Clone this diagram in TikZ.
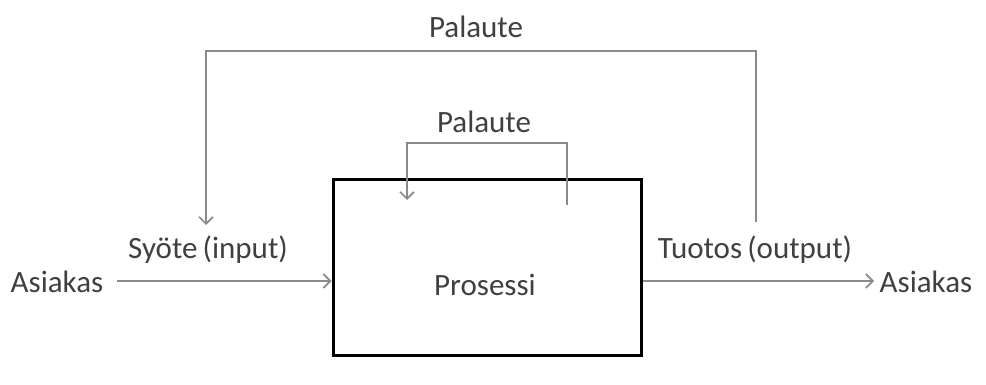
\documentclass[tikz,border=0pt]{standalone}
\usepackage{fontspec}
\setmainfont{Carlito}
\usetikzlibrary{arrows.meta}
\definecolor{txt}{HTML}{404040}
\definecolor{ln}{HTML}{8A8A8A}
\begin{document}
\begin{tikzpicture}[x=0.5pt,y=-0.5pt,
  lbl/.style={font=\fontsize{15.5}{18}\selectfont, text=txt, inner sep=0pt},
  conn/.style={draw=ln, line width=0.8pt, -{Straight Barb[length=3.5pt,width=7pt]}},
  plainln/.style={draw=ln, line width=0.8pt}]
\useasboundingbox[fill=white] (0,0) rectangle (986,385);
% process box
\node[draw=black, line width=1.5pt, minimum width=154pt, minimum height=87.5pt, inner sep=0pt] (proc) at (487,267.5) {};
\node[lbl] (proctxt) at (485,285) {Prosessi};
% labels
\node[lbl] (asL) at (57,282) {Asiakas};
\node[lbl] (asR) at (926,282) {Asiakas};
\node[lbl] (syote) at (208,250) {Syöte\,(input)};
\node[lbl] (tuotos) at (755,250) {Tuotos\,(output)};
\node[lbl] (palO) at (476,27) {Palaute};
\node[lbl] (palI) at (484,122) {Palaute};
% coordinates
\coordinate (inL) at (117,281);
\coordinate (outR) at (874,281);
\coordinate (oS) at (756,222);
\coordinate (oT1) at (756,51);
\coordinate (oT2) at (206,51);
\coordinate (oE) at (206,225);
\coordinate (iS) at (567,205);
\coordinate (iT1) at (567,143);
\coordinate (iT2) at (407,143);
\coordinate (iE) at (407,200);
% connectors
\draw[conn] (inL) -- (inL -| proc.west);
\draw[conn] (proc.east |- outR) -- (outR);
\draw[conn] (oS) -- (oT1) -- (oT2) -- (oE);
\draw[conn] (iS) -- (iT1) -- (iT2) -- (iE);
\end{tikzpicture}
\end{document}
